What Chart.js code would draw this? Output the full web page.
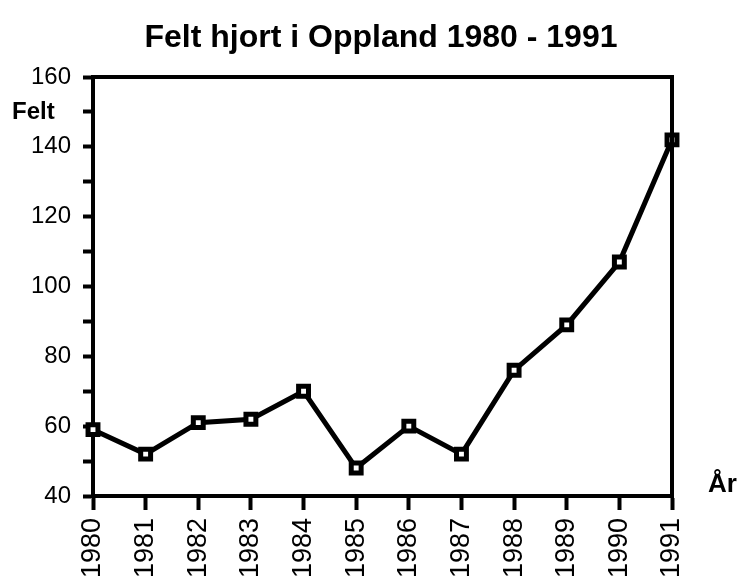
<!DOCTYPE html>
<html>
<head>
<meta charset="utf-8">
<script src="https://cdn.jsdelivr.net/npm/chart.js@4"></script>
<style>
  html, body { margin: 0; padding: 0; background: #fff; }
  #wrap { width: 739px; height: 578px; }
</style>
</head>
<body>
<div id="wrap"><canvas id="chart" width="739" height="578"></canvas></div>
<script>
const years = ['1980', '1981', '1982', '1983', '1984', '1985', '1986', '1987', '1988', '1989', '1990', '1991'];
const felt = [59, 52, 61, 62, 70, 48, 60, 52, 76, 89, 107, 142];
const yMin = 40;
const yMax = 160;
const titleText = 'Felt hjort i Oppland 1980 - 1991';

const FONT = "'Liberation Sans', Arial, Helvetica, sans-serif";

// title, top/right frame and the two loose axis captions
const framePlugin = {
    id: 'frame',
    afterDraw(chart) {
        const { ctx, chartArea } = chart;
        ctx.save();
        ctx.strokeStyle = '#000';
        ctx.lineWidth = 4;
        ctx.beginPath();
        ctx.moveTo(chartArea.left - 2, chartArea.top);
        ctx.lineTo(chartArea.right, chartArea.top);
        ctx.lineTo(chartArea.right, chartArea.bottom + 2);
        ctx.stroke();

        ctx.fillStyle = '#000';
        ctx.textBaseline = 'alphabetic';
        ctx.textAlign = 'center';
        ctx.font = 'bold 32px ' + FONT;
        ctx.fillText(titleText, 381, 47);

        ctx.textAlign = 'left';
        ctx.font = 'bold 24px ' + FONT;
        ctx.fillText('Felt', 12, 119);
        ctx.font = 'bold 26px ' + FONT;
        ctx.fillText('År', 708, 492);
        ctx.restore();
    }
};

const ctx = document.getElementById('chart');

new Chart(ctx, {
    type: 'line',
    data: {
        labels: years,
        datasets: [{
            label: 'Felt',
            data: felt,
            borderColor: '#000',
            borderWidth: 5,
            tension: 0,
            pointStyle: 'rect',
            pointRadius: 7,
            pointHoverRadius: 7,
            pointBorderWidth: 5,
            pointBackgroundColor: '#fff',
            pointBorderColor: '#000',
            clip: false
        }]
    },
    options: {
        responsive: false,
        animation: false,
        devicePixelRatio: 1,
        layout: {
            padding: { left: 23, right: 67, top: 77, bottom: 0 }
        },
        plugins: {
            legend: { display: false },
            tooltip: { enabled: false },
            title: { display: false }
        },
        scales: {
            x: {
                offset: false,
                afterFit(scale) { scale.height = 82; },
                border: { display: true, color: '#000', width: 4 },
                grid: {
                    drawOnChartArea: false,
                    drawTicks: true,
                    tickLength: 14,
                    tickWidth: 4,
                    tickColor: '#000'
                },
                ticks: {
                    autoSkip: false,
                    minRotation: 90,
                    maxRotation: 90,
                    padding: 8,
                    color: '#000',
                    font: { family: FONT, size: 27 }
                }
            },
            y: {
                min: yMin,
                max: yMax,
                afterFit(scale) { scale.width = 70; },
                border: { display: true, color: '#000', width: 4 },
                grid: {
                    drawOnChartArea: false,
                    drawTicks: true,
                    tickLength: 10,
                    tickWidth: 4,
                    tickColor: '#000'
                },
                ticks: {
                    stepSize: 10,
                    padding: 12,
                    color: '#000',
                    font: { family: FONT, size: 24 },
                    callback: v => (v % 20 === 0 ? v : '')
                }
            }
        }
    },
    plugins: [framePlugin]
});
</script>
</body>
</html>
